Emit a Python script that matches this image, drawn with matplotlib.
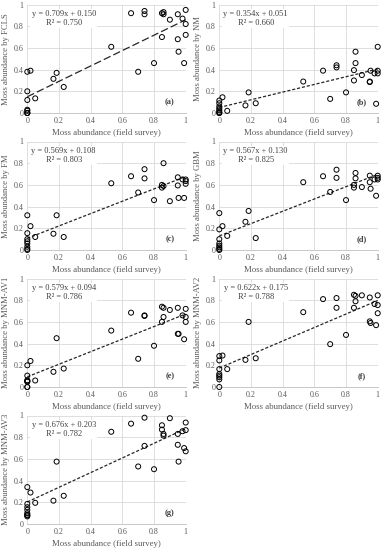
import numpy as np
import matplotlib
matplotlib.use("Agg")
import matplotlib.pyplot as plt

# field survey moss abundance (shared x for all panels)
x_zero = [0, 0, 0, 0, 0, 0, 0, 0]
x_field = [0.02, 0.05, 0.165, 0.185, 0.23, 0.53, 0.655, 0.70, 0.74, 0.74, 0.80, 0.85,
           0.85, 0.86, 0.86, 0.90, 0.95, 0.95, 0.955, 0.98, 0.99, 1.0, 1.0, 1.0]

# estimated abundances; first list = points at x=0, second = points at x_field
y_fcls_0 = [0, 0, 0.02, 0.03, 0.12, 0.2, 0.38, 0.0]
y_fcls = [0.39, 0.135, 0.315, 0.37, 0.24, 0.61, 0.92, 0.38, 0.94, 0.91, 0.46, 0.92,
          0.70, 0.91, 0.93, 0.86, 0.91, 0.68, 0.565, 0.87, 0.46, 0.95, 0.82, 0.72]
y_nm_0 = [0, 0.025, 0.06, 0.09, 0.115, 0, 0.01, 0.04]
y_nm = [0.145, 0.02, 0.07, 0.19, 0.09, 0.29, 0.39, 0.13, 0.44, 0.42, 0.19, 0.395,
        0.30, 0.46, 0.565, 0.35, 0.285, 0.29, 0.39, 0.365, 0.085, 0.61, 0.39, 0.365]
y_fm_0 = [0, 0.03, 0.06, 0.08, 0.155, 0.32, 0.01, 0.1]
y_fm = [0.22, 0.12, 0.15, 0.32, 0.12, 0.615, 0.68, 0.53, 0.745, 0.66, 0.46, 0.60,
        0.575, 0.80, 0.59, 0.45, 0.67, 0.595, 0.48, 0.65, 0.48, 0.65, 0.635, 0.61]
y_gbm_0 = [0, 0.025, 0.06, 0.10, 0.19, 0.34, 0.01, 0.04]
y_gbm = [0.22, 0.13, 0.26, 0.36, 0.11, 0.625, 0.68, 0.535, 0.74, 0.665, 0.46, 0.60,
         0.575, 0.71, 0.66, 0.58, 0.685, 0.625, 0.565, 0.65, 0.50, 0.685, 0.665, 0.65]
y_av1_0 = [0, 0.05, 0.06, 0.105, 0.20, 0.05, 0.06, 0.0]
y_av1 = [0.24, 0.06, 0.14, 0.45, 0.17, 0.52, 0.685, 0.26, 0.655, 0.66, 0.38, 0.74,
         0.60, 0.73, 0.645, 0.71, 0.73, 0.49, 0.49, 0.66, 0.44, 0.72, 0.645, 0.60]
y_av2_0 = [0, 0.07, 0.09, 0.105, 0.12, 0.165, 0.245, 0.285]
y_av2 = [0.29, 0.165, 0.25, 0.60, 0.265, 0.69, 0.81, 0.395, 0.82, 0.73, 0.48, 0.85,
         0.73, 0.84, 0.79, 0.845, 0.825, 0.605, 0.59, 0.765, 0.57, 0.845, 0.755, 0.68]
y_av3_0 = [0.07, 0.085, 0.10, 0.13, 0.155, 0.185, 0.34, 0.08]
y_av3 = [0.29, 0.195, 0.215, 0.575, 0.26, 0.85, 0.925, 0.53, 0.98, 0.72, 0.505, 0.91,
         0.87, 0.83, 0.815, 0.975, 0.83, 0.73, 0.575, 0.855, 0.70, 0.935, 0.865, 0.67]

methods = ["FCLS", "NM", "FM", "GBM", "MNM-AV1", "MNM-AV2", "MNM-AV3"]
panel_tags = ["(a)", "(b)", "(c)", "(d)", "(e)", "(f)", "(g)"]
slopes = [0.709, 0.354, 0.569, 0.567, 0.579, 0.622, 0.676]
intercepts = [0.150, 0.051, 0.108, 0.130, 0.094, 0.175, 0.203]
r2 = [0.750, 0.660, 0.803, 0.825, 0.786, 0.788, 0.782]
y_zero = [y_fcls_0, y_nm_0, y_fm_0, y_gbm_0, y_av1_0, y_av2_0, y_av3_0]
y_vals = [y_fcls, y_nm, y_fm, y_gbm, y_av1, y_av2, y_av3]

plt.rcParams['font.family'] = ['Liberation Serif', 'DejaVu Serif']

fig = plt.figure(figsize=(3.86, 5.50), dpi=100)
W, H = 386.0, 550.0
lefts = [27.3, 219.3]
bottoms = [113, 250, 387, 524]
ax_w, ax_h = 158.4, 108.5
gray = '#595959'


def fmt(v):
    if v < 1e-9:
        return '0'
    if v > 0.999:
        return '1'
    return f'{v:.1f}'


for i, m in enumerate(methods):
    row, col = divmod(i, 2)
    ax = fig.add_axes([lefts[col] / W, 1 - bottoms[row] / H, ax_w / W, ax_h / H])
    xs = np.array(x_zero + x_field)
    ys = np.array(y_zero[i] + y_vals[i])
    ax.scatter(xs, ys, s=13, facecolors='none', edgecolors='black', linewidths=0.7,
               zorder=3, clip_on=False)
    xl = np.array([0, 1])
    ls = (0, (6, 2.5)) if i == 0 else (0, (2.5, 1.5))
    ax.plot(xl, slopes[i] * xl + intercepts[i], color='#262626', lw=0.9, ls=ls, zorder=2)

    ticks = np.arange(0, 1.01, 0.2)
    ax.set_xlim(0, 1)
    ax.set_ylim(0, 1)
    ax.set_xticks(ticks)
    ax.set_yticks(ticks)
    ax.set_xticklabels([fmt(v) for v in ticks])
    ax.set_yticklabels([fmt(v) for v in ticks])
    ax.grid(True, color='#d9d9d9', lw=0.6)
    ax.set_axisbelow(True)
    for s in ['top', 'right', 'left']:
        ax.spines[s].set_visible(False)
    ax.spines['bottom'].set_color('#bfbfbf')
    ax.spines['bottom'].set_linewidth(0.6)
    ax.tick_params(length=0, labelsize=5.8, colors=gray, pad=3)
    ax.set_xlabel('Moss abundance (field survey)', fontsize=6.3, color=gray, labelpad=3)
    ax.set_ylabel('Moss abundance by ' + m, fontsize=6.2, color=gray, labelpad=2.5)

    eq = f'y = {slopes[i]:.3f}x + {intercepts[i]:.3f}\nR² = {r2[i]:.3f}'
    ax.text(0.23, 0.95, eq, transform=ax.transAxes, fontsize=6, color='#404040',
            ha='center', va='top', linespacing=1.1,
            bbox=dict(facecolor='white', edgecolor='none', pad=1))
    ax.text(0.9, 0.1, panel_tags[i], transform=ax.transAxes, fontsize=6,
            fontweight='bold', color='#404040', ha='center', va='center')

fig.savefig('out.png', dpi=100)
